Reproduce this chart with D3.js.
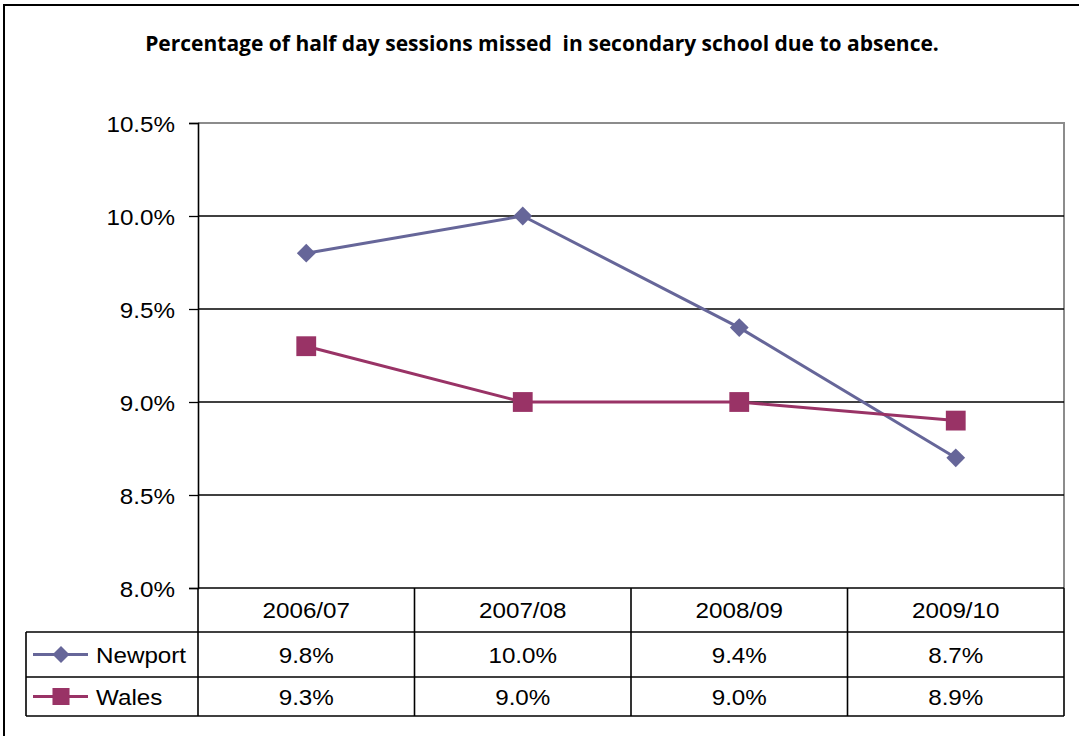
<!DOCTYPE html>
<html>
<head>
<meta charset="utf-8">
<script src="https://cdn.jsdelivr.net/npm/d3@7"></script>
<style>
  html, body { margin: 0; padding: 0; background: #fff; }
  svg { display: block; }
  .lab { font-family: "Liberation Sans", Arial, sans-serif; font-size: 22px; fill: #000; }
  .title { font-family: "Open Sans", "Noto Sans", sans-serif; font-weight: 700; font-size: 21px; fill: #000; }
</style>
</head>
<body>
<script>
// Absence data: percentage of half day sessions missed in secondary school
const categories = ["2006/07", "2007/08", "2008/09", "2009/10"];
const newport = [9.8, 10.0, 9.4, 8.7];
const wales = [9.3, 9.0, 9.0, 8.9];
const yTicks = [8.0, 8.5, 9.0, 9.5, 10.0, 10.5];
const seriesNames = ["Newport", "Wales"];
const seriesColors = ["#666699", "#993366"];

const W = 1079, H = 736;
const plot = { left: 198, right: 1064, top: 123, bottom: 588 };
const rowEdges = [588, 632, 677, 716];
const tableLeft = 26;
const stretch = 1.1; // text is drawn slightly wide

const svg = d3.select("body").append("svg").attr("width", W).attr("height", H);

// outer frame (left and top edges visible)
svg.append("path")
  .attr("d", `M4,${H} V5 H${W}`)
  .attr("fill", "none").attr("stroke", "#000").attr("stroke-width", 2);

// title
svg.append("text").attr("class", "title")
  .attr("x", 542).attr("y", 51).attr("text-anchor", "middle")
  .attr("xml:space", "preserve")
  .text("Percentage of half day sessions missed  in secondary school due to absence.");

const x = d3.scaleBand().domain(categories).range([plot.left, plot.right]);
const y = d3.scaleLinear().domain([8.0, 10.5]).range([plot.bottom, plot.top]);

function stretchedText(g, tx, ty, str, anchor) {
  g.append("g").attr("transform", `translate(${tx},${ty}) scale(${stretch},1)`)
    .append("text").attr("class", "lab").attr("text-anchor", anchor).text(str);
}

// plot area border (grey top/right)
svg.append("path")
  .attr("d", `M${plot.left},${plot.top} H${plot.right} V${plot.bottom}`)
  .attr("fill", "none").attr("stroke", "#8c8c8c").attr("stroke-width", 2);

// gridlines
svg.append("g").selectAll("line")
  .data(yTicks.filter(t => t > 8.0 && t < 10.5))
  .join("line")
  .attr("x1", plot.left).attr("x2", plot.right)
  .attr("y1", d => y(d)).attr("y2", d => y(d))
  .attr("stroke", "#000").attr("stroke-width", 1.6);

// y axis
const yAxis = d3.axisLeft(y).tickValues(yTicks).tickSize(9).tickPadding(0)
  .tickFormat(d => d3.format(".1f")(d) + "%");
const yg = svg.append("g").attr("transform", `translate(${plot.left},0)`).call(yAxis);
yg.select(".domain").attr("stroke", "#000").attr("stroke-width", 1.6);
yg.selectAll(".tick line").attr("stroke", "#000").attr("stroke-width", 1.3);
yg.selectAll(".tick text").remove();
yg.selectAll(".tick").each(function (d) {
  stretchedText(d3.select(this), -23, 8, d3.format(".1f")(d) + "%", "end");
});

// data table grid
const tg = svg.append("g").attr("stroke", "#000").attr("stroke-width", 1.6);
tg.append("line").attr("x1", plot.left).attr("x2", plot.right)
  .attr("y1", rowEdges[0]).attr("y2", rowEdges[0]);
rowEdges.slice(1).forEach(ry => {
  tg.append("line").attr("x1", tableLeft).attr("x2", plot.right).attr("y1", ry).attr("y2", ry);
});
tg.append("line").attr("x1", tableLeft).attr("x2", tableLeft)
  .attr("y1", rowEdges[1]).attr("y2", rowEdges[3]);
categories.forEach(c => {
  tg.append("line").attr("x1", x(c)).attr("x2", x(c))
    .attr("y1", rowEdges[0]).attr("y2", rowEdges[3]);
});
tg.append("line").attr("x1", plot.right).attr("x2", plot.right)
  .attr("y1", rowEdges[0]).attr("y2", rowEdges[3]);

// category header row
categories.forEach(c => {
  stretchedText(svg, x(c) + x.bandwidth() / 2, (rowEdges[0] + rowEdges[1]) / 2 + 8, c, "middle");
});

// value rows with legend keys
const series = [newport, wales];
series.forEach((vals, i) => {
  const rowMid = (rowEdges[i + 1] + rowEdges[i + 2]) / 2;
  vals.forEach((v, j) => {
    stretchedText(svg, x(categories[j]) + x.bandwidth() / 2, rowMid + 8, v.toFixed(1) + "%", "middle");
  });
  const key = svg.append("g");
  key.append("line").attr("x1", 33).attr("x2", 88).attr("y1", rowMid).attr("y2", rowMid)
    .attr("stroke", seriesColors[i]).attr("stroke-width", 3);
  key.append("path")
    .attr("transform", `translate(61,${rowMid})`)
    .attr("d", d3.symbol(i === 0 ? d3.symbolDiamond2 : d3.symbolSquare2, i === 0 ? 185 : 370)())
    .attr("fill", seriesColors[i]);
  stretchedText(svg, 96, rowMid + 8, seriesNames[i], "start");
});

// series lines and markers
const line = d3.line().x((d, j) => x(categories[j]) + x.bandwidth() / 2).y(d => y(d));
series.forEach((vals, i) => {
  svg.append("path").datum(vals).attr("d", line)
    .attr("fill", "none").attr("stroke", seriesColors[i]).attr("stroke-width", 3);
  svg.append("g").selectAll("path").data(vals).join("path")
    .attr("transform", (d, j) => `translate(${x(categories[j]) + x.bandwidth() / 2},${y(d)})`)
    .attr("d", d3.symbol(i === 0 ? d3.symbolDiamond2 : d3.symbolSquare2, i === 0 ? 225 : 500)())
    .attr("fill", seriesColors[i]);
});
</script>
</body>
</html>
